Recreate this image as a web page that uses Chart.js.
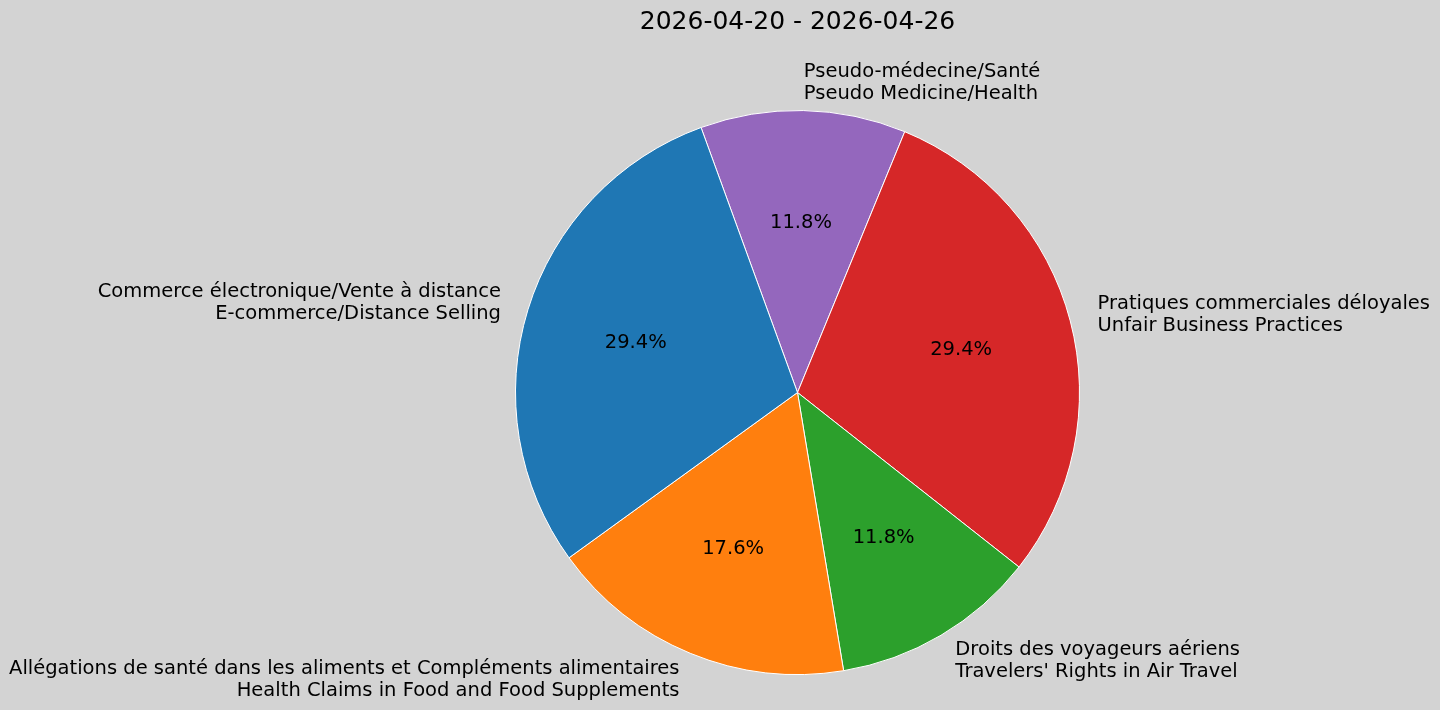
<!DOCTYPE html>
<html>
<head>
<meta charset="utf-8">
<script src="https://cdn.jsdelivr.net/npm/chart.js@4/dist/chart.umd.min.js"></script>
<style>
    html, body { margin: 0; padding: 0; background: #d3d3d3; }
    #wrap { width: 1440px; height: 710px; position: relative; }
</style>
</head>
<body>
<div id="wrap"><canvas id="myChart" width="1440" height="710"></canvas></div>
<script>
const titulo = "2026-04-20 - 2026-04-26";

// ordem do matplotlib (anti-horário)
const categorias = [
    ["Commerce électronique/Vente à distance", "E-commerce/Distance Selling"],
    ["Allégations de santé dans les aliments et Compléments alimentaires", "Health Claims in Food and Food Supplements"],
    ["Droits des voyageurs aériens", "Travelers' Rights in Air Travel"],
    ["Pratiques commerciales déloyales", "Unfair Business Practices"],
    ["Pseudo-médecine/Santé", "Pseudo Medicine/Health"]
];
const valores = [5, 3, 2, 5, 2];
const cores = ['#1f77b4', '#ff7f0e', '#2ca02c', '#d62728', '#9467bd'];

const FONTE = '"DejaVu Sans", sans-serif';

// Chart.js desenha no sentido horário, então inverte
const labels = categorias.slice().reverse();
const dados = valores.slice().reverse();
const bg = cores.slice().reverse();

const rotulosPlugin = {
    id: 'rotulos',
    afterDraw(chart) {
        const ctx = chart.ctx;
        const total = dados.reduce((a, b) => a + b, 0);
        ctx.save();
        ctx.fillStyle = '#000';

        // título
        ctx.font = `25px ${FONTE}`;
        ctx.textAlign = 'center';
        ctx.textBaseline = 'middle';
        const cx = (chart.chartArea.left + chart.chartArea.right) / 2;
        ctx.fillText(titulo, cx, 22);

        chart.getDatasetMeta(0).data.forEach((arc, i) => {
            const { x, y, startAngle, endAngle, outerRadius } = arc.getProps(['x', 'y', 'startAngle', 'endAngle', 'outerRadius'], true);
            const mid = (startAngle + endAngle) / 2;
            const cos = Math.cos(mid), sin = Math.sin(mid);

            // percentual
            ctx.font = `19.5px ${FONTE}`;
            ctx.textAlign = 'center';
            ctx.fillText((dados[i] / total * 100).toFixed(1) + '%', x + cos * outerRadius * 0.6, y + sin * outerRadius * 0.6);

            // rótulo externo
            const lx = x + cos * outerRadius * 1.1;
            const ly = y + sin * outerRadius * 1.1;
            const linhas = labels[i];
            const passo = 22;
            ctx.textAlign = cos >= 0 ? 'left' : 'right';
            linhas.forEach((l, k) => {
                ctx.fillText(l, lx, ly + 1 + (k - (linhas.length - 1) / 2) * passo);
            });
        });
        ctx.restore();
    }
};

new Chart(document.getElementById('myChart').getContext('2d'), {
    type: 'pie',
    data: {
        labels: labels.map(l => l.join(' / ')),
        datasets: [{
            data: dados,
            backgroundColor: bg,
            borderColor: '#ffffff',
            borderWidth: 1
        }]
    },
    options: {
        responsive: false,
        animation: false,
        rotation: -20,
        layout: { padding: { top: 110, bottom: 35, left: 515, right: 360 } },
        plugins: {
            legend: { display: false },
            tooltip: { enabled: false },
            title: { display: false }
        }
    },
    plugins: [rotulosPlugin]
});
</script>
</body>
</html>
